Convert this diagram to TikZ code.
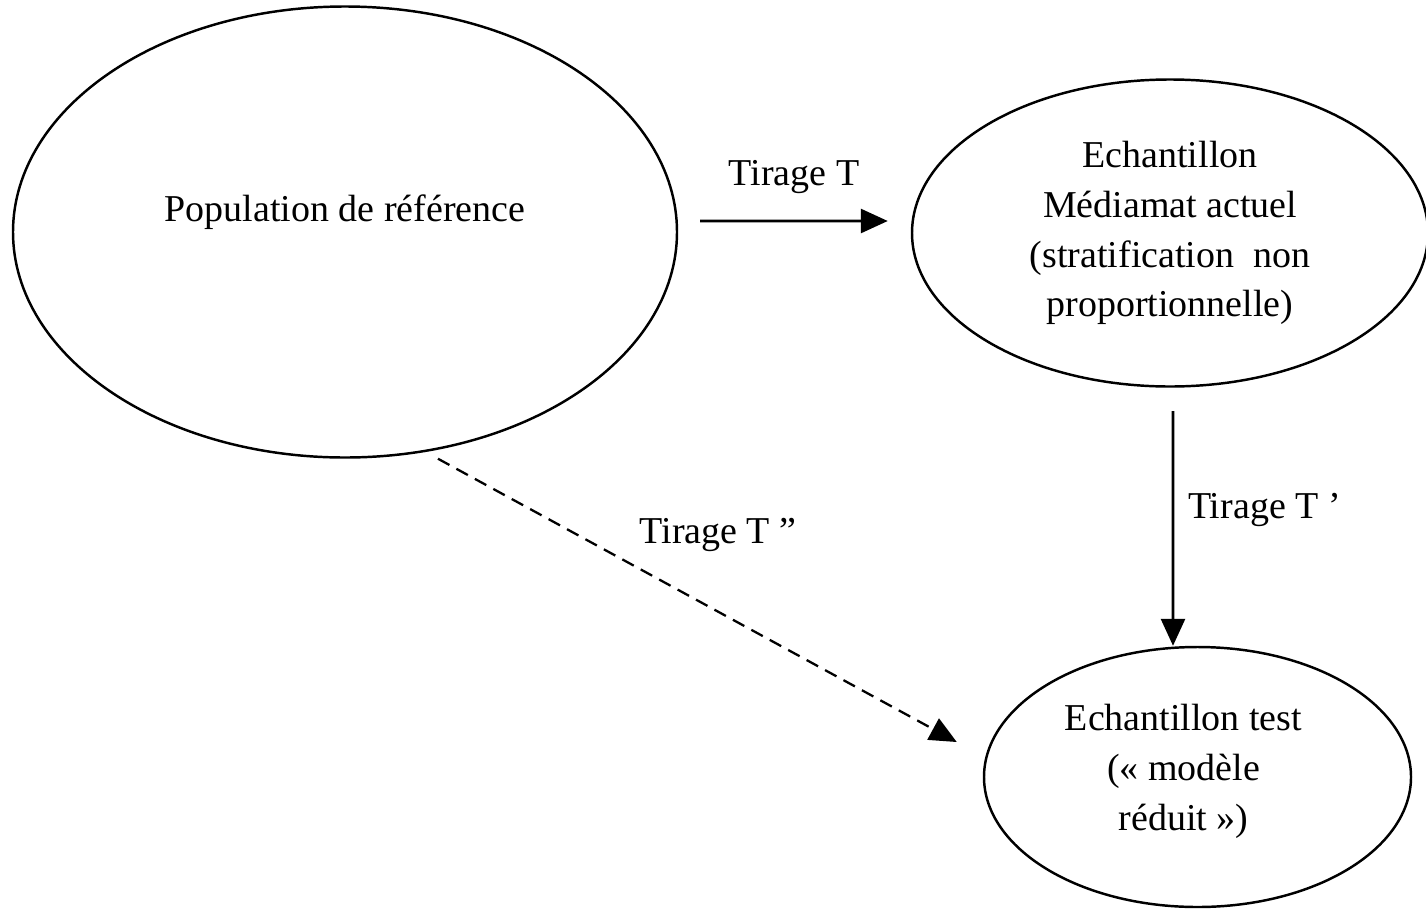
\documentclass[tikz,border=0pt]{standalone}
\usepackage{fontspec}
\setmainfont{Liberation Serif}
\usetikzlibrary{shapes.geometric,arrows.meta}

\tikzset{
  blob/.style={draw, ellipse, line width=0.7pt, inner sep=0pt},
  txt/.style={align=center, font=\fontsize{10.8}{14.2}\selectfont},
  arrow/.style={-{Triangle[length=2.7mm,width=2.4mm]}, line width=0.8pt},
}

\begin{document}
\begin{tikzpicture}
        \useasboundingbox (0,0) rectangle (14.26,9.08);

        % ---- the three sets ------------------------------
        \node[blob, minimum width=6.64cm, minimum height=4.51cm,
              label={[txt, yshift=2mm]center:Population de référence}] (pop) at (3.45,6.76) {};
        \node[blob, minimum width=5.16cm, minimum height=3.07cm,
              label={[txt]center:Echantillon\\Médiamat actuel\\(stratification~~non\\proportionnelle)}] (ech) at (11.70,6.75) {};
        \node[blob, minimum width=4.27cm, minimum height=2.60cm,
              label={[txt, xshift=-1.4mm, yshift=0.6mm]center:Echantillon test\\(« modèle\\réduit »)}] (test) at (11.975,1.31) {};

        % ---- the draws ------------------------------------
        \draw[arrow] ([shift={(0.22,0.11)}]pop.east)
          -- node[above=1.4mm, txt] (tT) {Tirage T} ([shift={(-0.23,0.12)}]ech.west);
        \draw[arrow] ([shift={(0.03,-0.235)}]ech.south)
          -- node[pos=0.42, right=0.2mm, txt] (tTp) {Tirage T ’} ([shift={(-0.245,0)}]test.north);
        \draw[arrow, line width=0.65pt, dash pattern=on 1.3mm off 0.8mm] ([shift={(0.93,0)}]pop.south)
          -- node[pos=0.54, above=4.7mm, txt] (tTs) {Tirage T ”} ([shift={(-0.26,0.35)}]test.west);
\end{tikzpicture}
\end{document}
